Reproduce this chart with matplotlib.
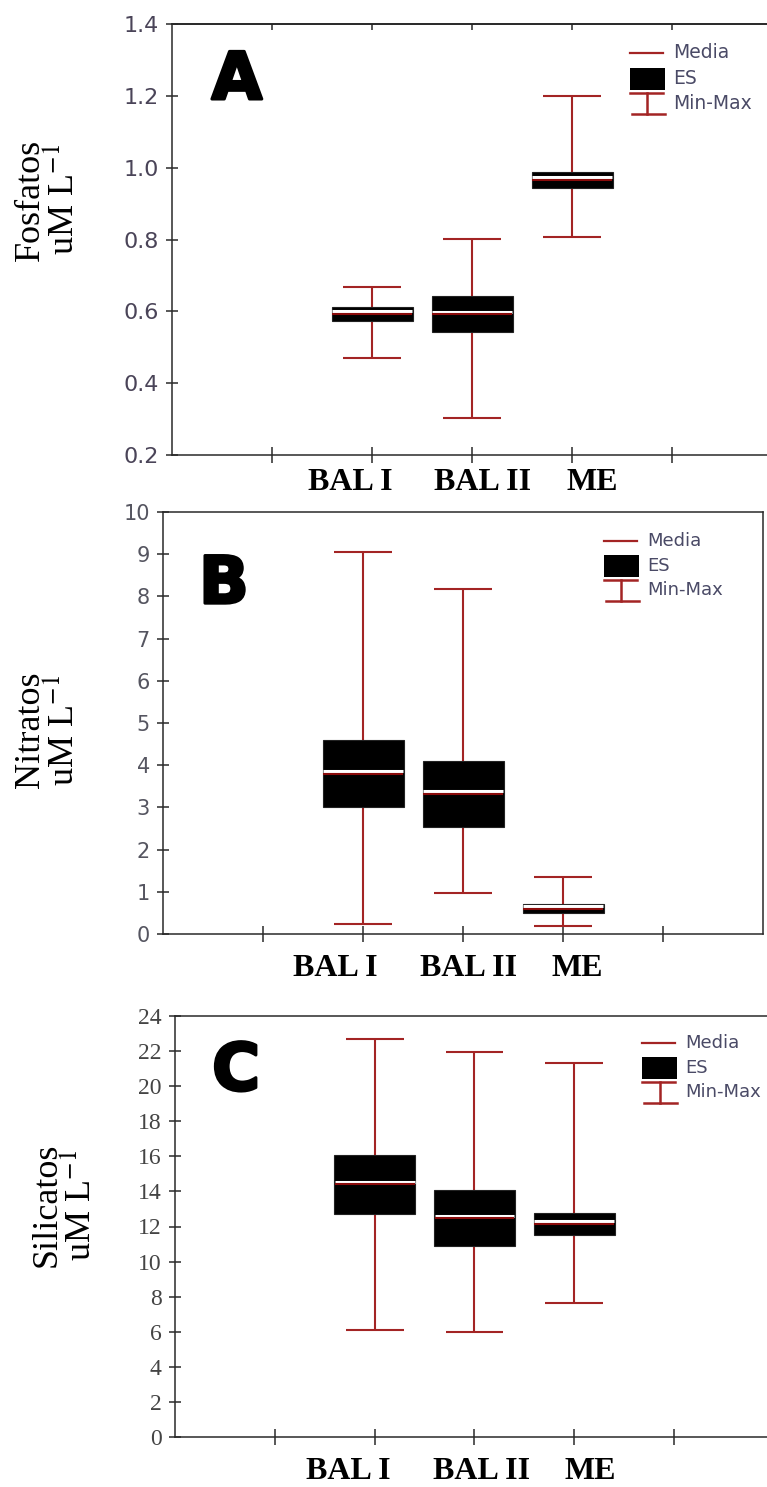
import matplotlib
matplotlib.use("Agg")
from matplotlib import pyplot as plt
from matplotlib import patheffects
from matplotlib.patches import Rectangle
from matplotlib.ticker import FormatStrFormatter
from matplotlib.transforms import offset_copy

plt.rcParams["mathtext.fontset"] = "stix"

categories = ["BAL I", "BAL II", "ME"]

fosfatos_media = [0.593, 0.592, 0.966]
fosfatos_es = [0.019, 0.050, 0.023]
fosfatos_min = [0.470, 0.303, 0.807]
fosfatos_max = [0.667, 0.801, 1.200]

nitratos_media = [3.80, 3.32, 0.60]
nitratos_es = [0.80, 0.78, 0.10]
nitratos_min = [0.24, 0.97, 0.19]
nitratos_max = [9.05, 8.18, 1.35]

silicatos_media = [14.40, 12.48, 12.15]
silicatos_es = [1.68, 1.60, 0.63]
silicatos_min = [6.10, 5.99, 7.64]
silicatos_max = [22.69, 21.95, 21.32]

fosfatos_ticks = [0.2, 0.4, 0.6, 0.8, 1.0, 1.2, 1.4]
nitratos_ticks = list(range(0, 11))
silicatos_ticks = list(range(0, 25, 2))

RED = "#a32424"
DARK_RED = "#8a0b0b"
XPOS = [2, 3, 4]


def draw_boxes(ax, media, es, vmin, vmax):
    for x, lo, hi in zip(XPOS, vmin, vmax):
        ax.vlines(x, lo, hi, color=RED, lw=1.5, zorder=2)
        ax.hlines([lo, hi], x - 0.29, x + 0.29, color=RED, lw=1.5, zorder=2)

    bottoms = [m - e for m, e in zip(media, es)]
    heights = [2 * e for e in es]
    ax.bar(XPOS, heights, bottom=bottoms, width=0.81, color="black",
           edgecolor="#222222", lw=0.8, zorder=3)

    # mean line with a thin white band just above it
    shifted = offset_copy(ax.transData, fig=ax.figure, y=2.5, units="dots")
    left = [x - 0.4 for x in XPOS]
    right = [x + 0.4 for x in XPOS]
    ax.hlines(media, left, right, color="white", lw=2.2, transform=shifted, zorder=4)
    ax.hlines(media, left, right, color=DARK_RED, lw=1.5, zorder=5)


def draw_key(ax, x0, y0, size=13.5, color="#4a4a66"):
    t = ax.transAxes
    ax.plot([x0, x0 + 0.055], [y0, y0], color=RED, lw=1.6, transform=t)
    ax.add_patch(Rectangle((x0, y0 - 0.085), 0.058, 0.051, facecolor="black",
                           transform=t))
    ax.plot([x0, x0 + 0.055], [y0 - 0.093, y0 - 0.093], color=RED, lw=1.8, transform=t)
    ax.plot([x0 + 0.003, x0 + 0.058], [y0 - 0.142, y0 - 0.142], color=RED, lw=1.8, transform=t)
    ax.plot([x0 + 0.029, x0 + 0.029], [y0 - 0.093, y0 - 0.142], color=RED, lw=1.8, transform=t)
    ax.text(x0 + 0.072, y0, "Media", transform=t, fontsize=size, color=color,
            va="center", ha="left")
    ax.text(x0 + 0.072, y0 - 0.060, "ES", transform=t, fontsize=size, color=color,
            va="center", ha="left")
    ax.text(x0 + 0.072, y0 - 0.117, "Min-Max", transform=t, fontsize=size, color=color,
            va="center", ha="left")


def style_axes(ax, ticks, label_font, label_size, label_color):
    ax.set_xlim(0, 6)
    ax.set_ylim(ticks[0], ticks[-1])
    ax.set_yticks(ticks)
    ax.set_xticks([1, 2, 3, 4, 5])
    for s in ax.spines.values():
        s.set_linewidth(1.1)
        s.set_color("#2a2a2a")
    ax.tick_params(axis="y", direction="inout", length=9, width=1.1, pad=5,
                   labelsize=label_size, labelcolor=label_color, color="#2a2a2a")
    ax.tick_params(axis="x", direction="inout", length=11, width=1.1,
                   labelbottom=False, color="#2a2a2a")
    for lab in ax.get_yticklabels():
        lab.set_family(label_font)


def add_labels(ax, letter, letter_xy, name, name_xy, cat_offsets, cat_y):
    ax.text(letter_xy[0], letter_xy[1], letter, transform=ax.transAxes,
            fontsize=47, fontweight="bold", family="DejaVu Sans", ha="left",
            va="baseline",
            path_effects=[patheffects.withStroke(linewidth=2.2, foreground="black")])
    ax.text(name_xy[0], name_xy[1], name + "\nuM L$^{-1}$", transform=ax.transAxes,
            rotation=90, fontsize=26, family="Liberation Serif", ha="center",
            va="center", multialignment="center", linespacing=0.95)
    tr = ax.get_xaxis_transform()
    for x, off, cat in zip(XPOS, cat_offsets, categories):
        ax.text(x + off, cat_y, cat, transform=tr, fontsize=23, fontweight="bold",
                family="Liberation Serif", ha="center", va="center")


fig = plt.figure(figsize=(7.67, 14.87), dpi=100)
W, H = 767, 1487

ax_a = fig.add_axes([172 / W, 1 - 455 / H, 600 / W, 431 / H])
ax_b = fig.add_axes([163 / W, 1 - 934 / H, 600 / W, 422 / H])
ax_c = fig.add_axes([175 / W, 1 - 1437 / H, 599 / W, 421 / H])

# A - Fosfatos
draw_boxes(ax_a, fosfatos_media, fosfatos_es, fosfatos_min, fosfatos_max)
style_axes(ax_a, fosfatos_ticks, "DejaVu Sans", 16, "#4a4458")
ax_a.yaxis.set_major_formatter(FormatStrFormatter("%.1f"))
top = ax_a.secondary_xaxis("top")
top.set_xticks([1, 2, 3, 4, 5])
top.tick_params(direction="in", length=4, width=1.1, labeltop=False, color="#2a2a2a")
top.spines["top"].set_linewidth(1.1)
draw_key(ax_a, 0.763, 0.933)
add_labels(ax_a, "A", (0.066, 0.826), "Fosfatos", (-0.208, 0.592),
           [-0.22, 0.11, 0.20], -0.063)

# B - Nitratos
draw_boxes(ax_b, nitratos_media, nitratos_es, nitratos_min, nitratos_max)
style_axes(ax_b, nitratos_ticks, "DejaVu Sans", 15, "#555560")
draw_key(ax_b, 0.735, 0.931, size=13)
add_labels(ax_b, "B", (0.060, 0.784), "Nitratos", (-0.193, 0.483),
           [-0.28, 0.06, 0.14], -0.081)

# C - Silicatos
draw_boxes(ax_c, silicatos_media, silicatos_es, silicatos_min, silicatos_max)
style_axes(ax_c, silicatos_ticks, "Liberation Serif", 17, "#444444")
draw_key(ax_c, 0.780, 0.936, size=13)
add_labels(ax_c, "C", (0.062, 0.824), "Silicatos", (-0.185, 0.551),
           [-0.26, 0.07, 0.16], -0.083)

fig.savefig("out.png", dpi=100)
